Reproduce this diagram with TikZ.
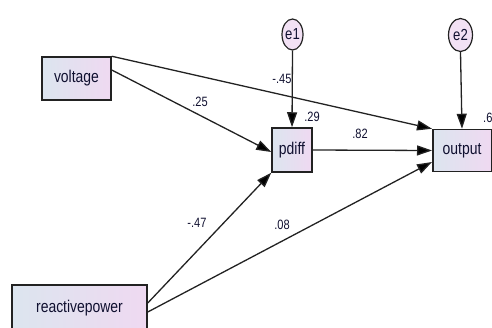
\documentclass[tikz,border=0pt]{standalone}
\usepackage{fontspec}
\setmainfont{Liberation Sans}
\newfontfamily\nodefont[FakeStretch=0.82]{Liberation Sans}
\usetikzlibrary{arrows.meta,shapes.geometric}
\definecolor{boxl}{HTML}{DCE5EF}
\definecolor{boxr}{HTML}{EFD9F1}
\definecolor{edge}{HTML}{222222}
\definecolor{ink}{HTML}{101030}
\tikzset{
  obs/.style={draw=edge, line width=1.5pt, rectangle, left color=boxl, right color=boxr,
    inner sep=0pt, font=\nodefont\fontsize{17}{19}\selectfont, text=ink},
  err/.style={draw=edge, line width=1.2pt, ellipse, fill=boxr!80!white, inner sep=0pt,
    font=\nodefont\fontsize{16}{18}\selectfont, text=ink},
  conn/.style={draw=edge, line width=1.3pt, -{Triangle[length=15pt,width=10pt,fill=black]}},
  coef/.style={font=\nodefont\fontsize{13.5}{15}\selectfont, text=ink, inner sep=0pt}
}
\begin{document}
\begin{tikzpicture}[x=1pt,y=-1pt]
\useasboundingbox (0,0) rectangle (492,327);
\node[obs, minimum width=69pt, minimum height=43pt] (voltage) at (76.5,78.5) {voltage};
\node[obs, minimum width=40pt, minimum height=44pt] (pdiff) at (292,150) {pdiff};
\node[obs, minimum width=58.5pt, minimum height=42pt] (output) at (462,150.5) {output};
\node[obs, minimum width=135pt, minimum height=46pt] (reactive) at (79.5,308) {reactivepower};
\node[err, minimum width=21pt, minimum height=31pt] (e1) at (292.5,34.5) {e1};
\node[err, minimum width=24pt, minimum height=33pt] (e2) at (460.5,35) {e2};

\draw[conn] (voltage.north east) -- (output.north west);
\draw[conn] ([yshift=8.5pt]voltage.east) -- ([yshift=-2pt]pdiff.west);
\draw[conn] ([yshift=5pt]reactive.east) -- (pdiff.south west);
\draw[conn] ([yshift=-4pt]reactive.east) -- ([yshift=-11.5pt]output.west);
\draw[conn] (pdiff.east) -- (output.west);
\draw[conn] (e1.south) -- (pdiff.north);
\draw[conn] (e2.south) -- (output.north);

\node[coef] (c1) at (282,79) {-.45};
\node[coef] (c2) at (200,102) {.25};
\node[coef] (c3) at (312,117) {.29};
\node[coef] (c4) at (360,134) {.82};
\node[coef] (c5) at (197,223) {-.47};
\node[coef] (c6) at (282,225) {.08};
\node[coef, anchor=west] (c7) at (483,118) {.6};
\end{tikzpicture}
\end{document}
